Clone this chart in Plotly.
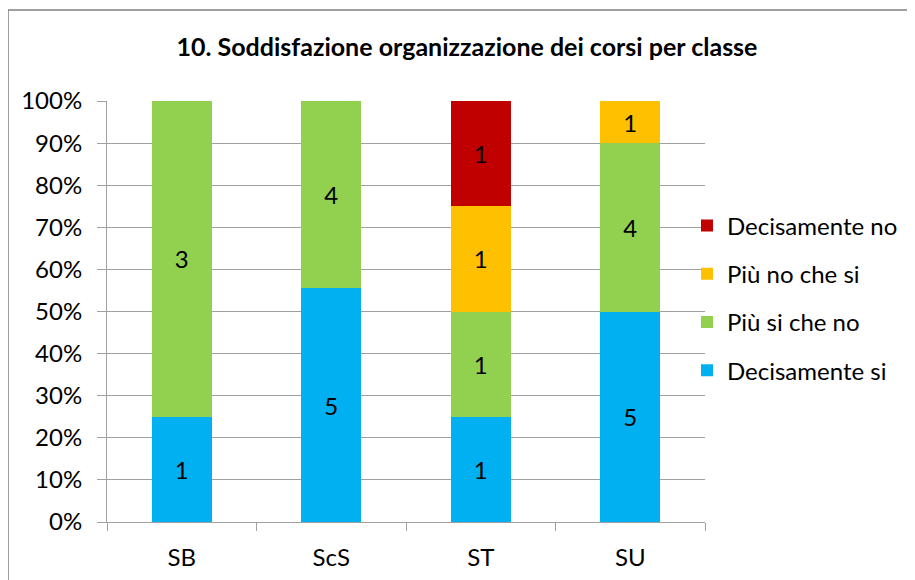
import plotly.graph_objects as go

categories = ["SB", "ScS", "ST", "SU"]
series_names = ["Decisamente si", "Più si che no", "Più no che si", "Decisamente no"]
decisamente_si = [1, 5, 1, 5]
piu_si_che_no = [3, 4, 1, 4]
piu_no_che_si = [0, 0, 1, 1]
decisamente_no = [0, 0, 1, 0]
colors = ["#00B0F0", "#92D050", "#FFC000", "#C00000"]
y_ticks = list(range(0, 101, 10))
y_tick_labels = [f"{v}%" for v in y_ticks]
title = "10. Soddisfazione organizzazione dei corsi per classe"

series_values = [decisamente_si, piu_si_che_no, piu_no_che_si, decisamente_no]

FONT = "Lato"
FS = 24

OX, OY = 8, 8  # page body offset
W, H = 915, 580
# target pixel positions in the screenshot
PL, PR, PT, PB = 107, 705, 101, 522
L, T = PL - OX, PT - OY
R = W - (PR - OX)
B = H - (PB - OY)
pw, ph = W - L - R, H - T - B

def px2x(px):
    return (px - OX - L) / pw

def px2y(py):
    return (H - B - (py - OY)) / ph

fig = go.Figure()
for i, (name, vals, col) in enumerate(zip(series_names, series_values, colors)):
    fig.add_trace(go.Bar(
        x=categories, y=vals, name=name, marker_color=col,
        marker_line_width=0,
        text=[str(v) if v else "" for v in vals],
        textposition="inside", insidetextanchor="middle", textangle=0,
        textfont=dict(family=FONT, size=FS, color="black"),
        legendgroup=name, legendrank=len(series_names) - i,
    ))

fig.update_layout(
    width=W, height=H,
    margin=dict(l=L, r=R, t=T, b=B),
    barmode="stack", barnorm="percent", bargap=0.6,
    plot_bgcolor="white", paper_bgcolor="white",
    font=dict(family=FONT, size=FS, color="black"),
    title=dict(text="<b>" + title + "</b>", x=(467 - OX) / W, xanchor="center",
               y=1 - (47 - OY) / H, yanchor="middle", font=dict(family=FONT, size=25)),
    legend=dict(x=px2x(687), xanchor="left", y=px2y(298), yanchor="middle",
                traceorder="grouped", tracegroupgap=14,
                font=dict(family=FONT, size=FS), bgcolor="rgba(0,0,0,0)"),
    yaxis=dict(range=[0, 100], tickvals=y_ticks, ticktext=y_tick_labels,
               showgrid=True, gridcolor="#A0A0A0", gridwidth=1,
               showline=True, linecolor="#A0A0A0", linewidth=1,
               ticks="outside", ticklen=9, tickcolor="#A0A0A0",
               zeroline=False, ticklabelstandoff=10,
               tickfont=dict(family=FONT, size=FS)),
    xaxis=dict(showline=True, linecolor="#A0A0A0", linewidth=1,
               ticks="outside", ticklen=8, tickcolor="#A0A0A0",
               tickson="boundaries", showgrid=False,
               ticklabelstandoff=14,
               tickfont=dict(family=FONT, size=FS)),
    shapes=[dict(type="rect", xref="paper", yref="paper",
                 x0=px2x(8), x1=px2x(910), y0=px2y(595), y1=px2y(10),
                 line=dict(color="#808080", width=1.5), fillcolor="rgba(0,0,0,0)",
                 layer="below")],
)

fig.write_html("out.html")
